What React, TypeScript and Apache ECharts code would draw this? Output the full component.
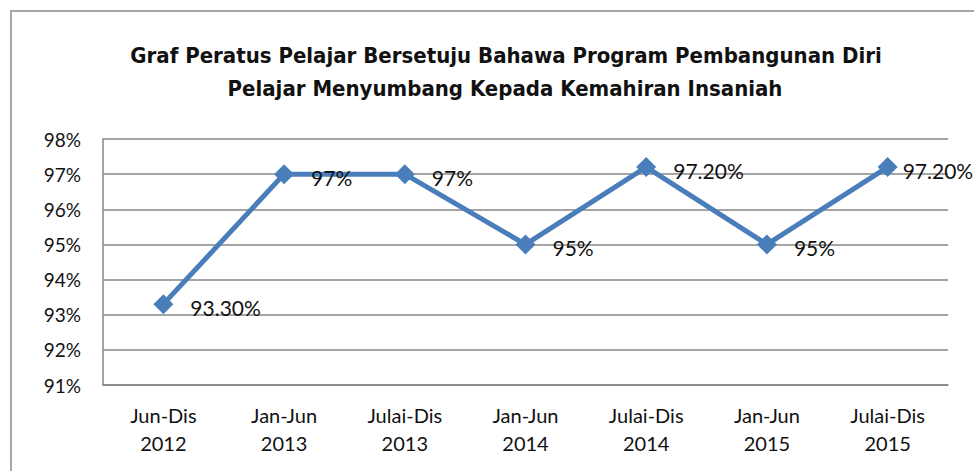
import React, { useEffect, useRef } from "react";
import * as echarts from "echarts";

const categories = [
  "Jun-Dis\n2012",
  "Jan-Jun\n2013",
  "Julai-Dis\n2013",
  "Jan-Jun\n2014",
  "Julai-Dis\n2014",
  "Jan-Jun\n2015",
  "Julai-Dis\n2015",
];
const values = [93.3, 97, 97, 95, 97.2, 95, 97.2];
const labels = ["93.30%", "97%", "97%", "95%", "97.20%", "95%", "97.20%"];
const titleLines = [
  "Graf Peratus Pelajar Bersetuju Bahawa Program Pembangunan Diri",
  "Pelajar Menyumbang Kepada Kemahiran Insaniah",
];
const yMin = 91;
const yMax = 98;

export default function App() {
  const ref = useRef<HTMLDivElement>(null);
  useEffect(() => {
    if (!ref.current) return;
    const chart = echarts.init(ref.current, null, { renderer: "svg" });
    const font = "Lato";
    const gray = "#878787";
    const seriesData = values.map((v, i) =>
      i === values.length - 1 ? { value: v, label: { distance: 5 } } : v
    );
    chart.setOption({
      animation: false,
      backgroundColor: "#ffffff",
      grid: { left: 103, top: 139, right: 26, bottom: 86, containLabel: false },
      graphic: [
        {
          type: "rect",
          shape: { x: 11, y: 11, width: 1100, height: 600 },
          style: { fill: "none", stroke: "#8a8a8a", lineWidth: 1.5 },
          silent: true,
        },
        {
          type: "text",
          x: 506,
          y: 55,
          style: {
            text: titleLines[0],
            fill: "#111",
            font: "bold 22px 'DejaVu Sans Condensed'",
            textAlign: "center",
            textVerticalAlign: "middle",
          },
        },
        {
          type: "text",
          x: 505,
          y: 88,
          style: {
            text: titleLines[1],
            fill: "#111",
            font: "bold 22px 'DejaVu Sans Condensed'",
            textAlign: "center",
            textVerticalAlign: "middle",
          },
        },
      ],
      xAxis: {
        type: "category",
        data: categories,
        boundaryGap: true,
        axisLine: { show: true, lineStyle: { color: gray, width: 1.5 } },
        axisTick: { show: false },
        axisLabel: {
          color: "#111",
          fontFamily: font,
          fontSize: 20,
          lineHeight: 28,
          margin: 16,
          interval: 0,
        },
      },
      yAxis: {
        type: "value",
        min: yMin,
        max: yMax,
        interval: 1,
        axisLine: { show: true, lineStyle: { color: gray, width: 1.5 } },
        axisTick: { show: false },
        splitLine: { show: true, lineStyle: { color: gray, width: 1.5 } },
        axisLabel: {
          formatter: "{value}%",
          color: "#111",
          fontFamily: font,
          fontSize: 19,
          margin: 22,
        },
      },
      series: [
        {
          type: "line",
          data: seriesData,
          symbol: "diamond",
          symbolSize: 20,
          lineStyle: { color: "#4a7ebb", width: 5 },
          itemStyle: { color: "#4a7ebb" },
          label: {
            show: true,
            position: "right",
            distance: 17,
            offset: [0, 3],
            color: "#111",
            fontFamily: font,
            fontSize: 21,
            formatter: (p: any) => labels[p.dataIndex],
          },
          z: 3,
        },
      ],
    });
    return () => chart.dispose();
  }, []);
  return (
    <div
      ref={ref}
      style={{ position: "absolute", left: 0, top: 0, width: 974, height: 471 }}
    />
  );
}
